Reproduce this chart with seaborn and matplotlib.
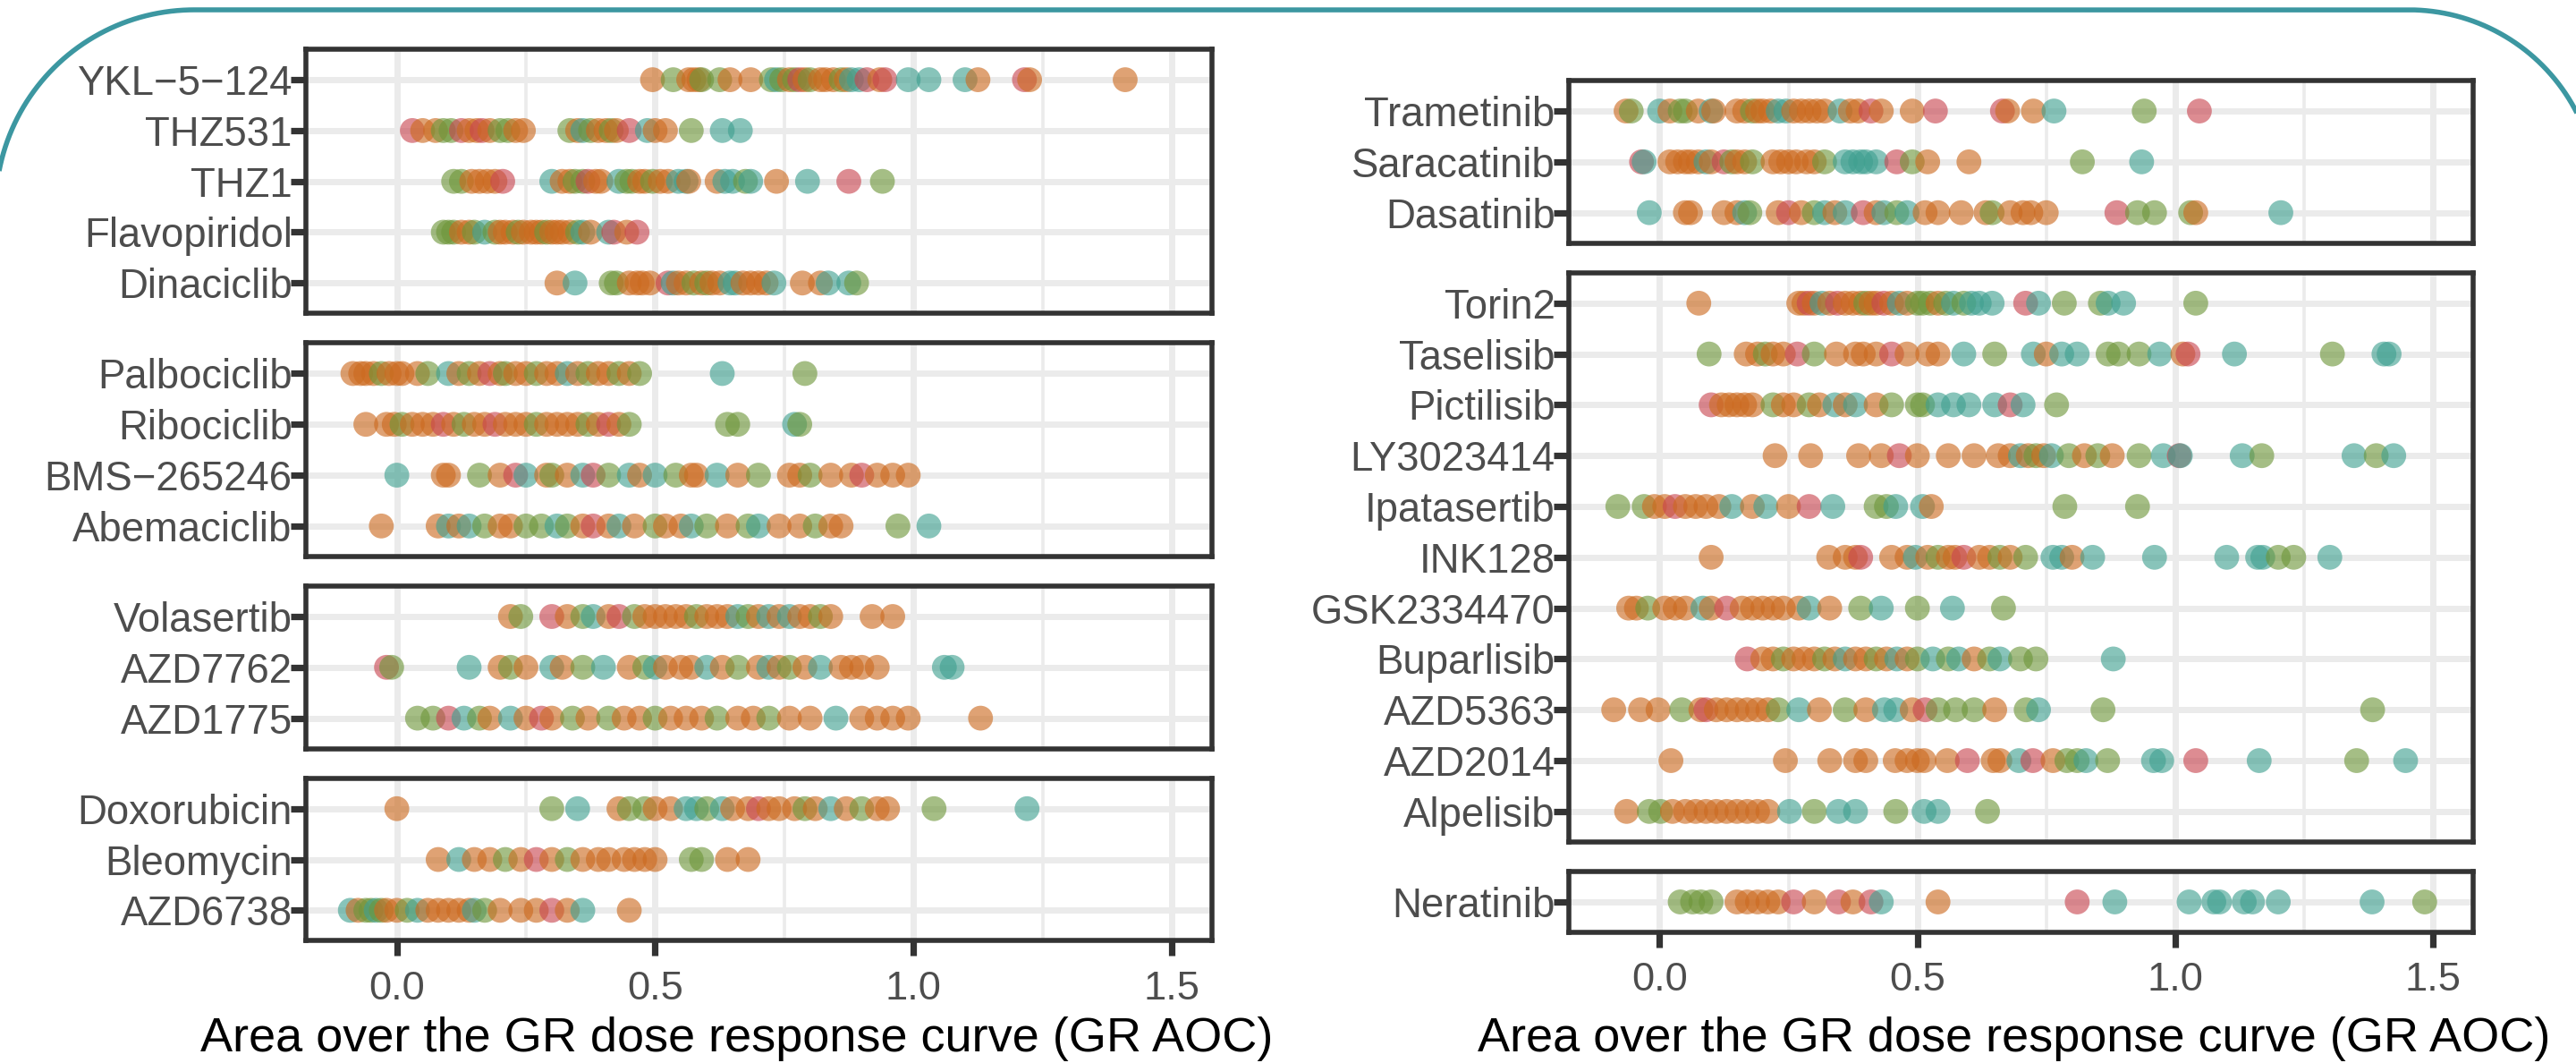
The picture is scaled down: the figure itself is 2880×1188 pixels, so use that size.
import numpy as np
import pandas as pd
import matplotlib
matplotlib.use("Agg")
import matplotlib.pyplot as plt
import seaborn as sns

# ---------------- data (GR AOC value, subtype code) ----------------
# subtype codes: o, g, t, p  (four cell-line groups)
YKL_5_124 = [(0.495,'o'),(0.535,'g'),(0.565,'o'),(0.575,'o'),(0.585,'o'),(0.59,'g'),(0.625,'g'),(0.645,'o'),(0.685,'o'),(0.725,'g'),(0.735,'t'),(0.745,'g'),(0.76,'o'),(0.77,'g'),(0.78,'p'),(0.79,'o'),(0.80,'g'),(0.82,'o'),(0.83,'o'),(0.845,'o'),(0.86,'g'),(0.87,'o'),(0.88,'t'),(0.895,'t'),(0.91,'p'),(0.935,'o'),(0.945,'p'),(0.99,'t'),(1.03,'t'),(1.10,'t'),(1.125,'o'),(1.215,'p'),(1.225,'o'),(1.41,'o')]
THZ531 = [(0.03,'p'),(0.05,'o'),(0.075,'o'),(0.09,'g'),(0.105,'g'),(0.125,'p'),(0.14,'o'),(0.155,'o'),(0.165,'p'),(0.18,'o'),(0.2,'g'),(0.215,'g'),(0.23,'o'),(0.245,'o'),(0.335,'g'),(0.35,'o'),(0.36,'t'),(0.375,'g'),(0.39,'o'),(0.405,'o'),(0.415,'g'),(0.425,'o'),(0.45,'p'),(0.485,'t'),(0.5,'o'),(0.52,'o'),(0.57,'g'),(0.63,'t'),(0.665,'t')]
THZ1 = [(0.11,'g'),(0.125,'g'),(0.145,'o'),(0.16,'o'),(0.175,'o'),(0.19,'o'),(0.205,'p'),(0.3,'t'),(0.32,'o'),(0.335,'o'),(0.345,'g'),(0.36,'g'),(0.37,'p'),(0.385,'o'),(0.395,'o'),(0.43,'t'),(0.445,'g'),(0.455,'g'),(0.47,'o'),(0.48,'o'),(0.495,'g'),(0.51,'o'),(0.525,'o'),(0.545,'t'),(0.56,'t'),(0.565,'o'),(0.62,'o'),(0.635,'t'),(0.65,'t'),(0.675,'g'),(0.685,'t'),(0.735,'o'),(0.795,'t'),(0.875,'p'),(0.94,'g')]
Flavopiridol = [(0.09,'g'),(0.1,'g'),(0.11,'g'),(0.125,'o'),(0.14,'o'),(0.15,'g'),(0.17,'t'),(0.19,'g'),(0.2,'o'),(0.21,'o'),(0.225,'o'),(0.235,'g'),(0.245,'o'),(0.26,'o'),(0.27,'o'),(0.28,'o'),(0.29,'g'),(0.3,'o'),(0.31,'o'),(0.32,'o'),(0.335,'o'),(0.35,'g'),(0.36,'t'),(0.375,'o'),(0.41,'t'),(0.42,'p'),(0.445,'o'),(0.465,'p')]
Dinaciclib = [(0.31,'o'),(0.345,'t'),(0.415,'g'),(0.425,'g'),(0.45,'o'),(0.465,'o'),(0.475,'o'),(0.49,'o'),(0.525,'p'),(0.535,'t'),(0.545,'o'),(0.56,'o'),(0.575,'g'),(0.59,'o'),(0.6,'g'),(0.61,'o'),(0.625,'o'),(0.645,'t'),(0.655,'t'),(0.67,'o'),(0.685,'o'),(0.7,'o'),(0.715,'o'),(0.73,'t'),(0.785,'o'),(0.82,'o'),(0.835,'t'),(0.875,'t'),(0.89,'g')]

Palbociclib = [(-0.085,'o'),(-0.07,'o'),(-0.06,'o'),(-0.045,'o'),(-0.03,'g'),(-0.015,'o'),(0.0,'o'),(0.01,'o'),(0.04,'o'),(0.06,'g'),(0.1,'t'),(0.12,'o'),(0.14,'g'),(0.16,'o'),(0.18,'p'),(0.2,'o'),(0.21,'g'),(0.23,'o'),(0.25,'o'),(0.27,'g'),(0.29,'o'),(0.31,'o'),(0.33,'t'),(0.35,'o'),(0.37,'g'),(0.39,'o'),(0.41,'o'),(0.43,'g'),(0.45,'o'),(0.47,'g'),(0.63,'t'),(0.79,'g')]
Ribociclib = [(-0.06,'o'),(-0.02,'o'),(-0.005,'o'),(0.01,'g'),(0.03,'o'),(0.05,'o'),(0.07,'o'),(0.09,'p'),(0.11,'o'),(0.13,'g'),(0.15,'o'),(0.17,'o'),(0.19,'p'),(0.21,'o'),(0.23,'o'),(0.25,'o'),(0.27,'g'),(0.29,'o'),(0.31,'o'),(0.33,'o'),(0.35,'o'),(0.37,'g'),(0.39,'o'),(0.41,'p'),(0.43,'o'),(0.45,'g'),(0.64,'g'),(0.66,'g'),(0.77,'t'),(0.78,'g')]
BMS_265246 = [(0.0,'t'),(0.09,'o'),(0.1,'o'),(0.16,'g'),(0.2,'o'),(0.23,'p'),(0.25,'t'),(0.29,'o'),(0.3,'g'),(0.33,'o'),(0.36,'t'),(0.38,'p'),(0.41,'g'),(0.45,'t'),(0.47,'o'),(0.5,'t'),(0.54,'g'),(0.57,'o'),(0.58,'o'),(0.62,'t'),(0.66,'o'),(0.7,'g'),(0.76,'o'),(0.78,'o'),(0.8,'g'),(0.84,'o'),(0.88,'o'),(0.9,'p'),(0.93,'o'),(0.96,'o'),(0.99,'o')]
Abemaciclib = [(-0.03,'o'),(0.08,'o'),(0.1,'t'),(0.12,'o'),(0.14,'t'),(0.17,'g'),(0.2,'o'),(0.22,'o'),(0.25,'g'),(0.28,'g'),(0.31,'t'),(0.33,'g'),(0.36,'o'),(0.38,'p'),(0.41,'o'),(0.43,'t'),(0.46,'o'),(0.5,'g'),(0.52,'o'),(0.55,'o'),(0.57,'t'),(0.6,'g'),(0.64,'o'),(0.68,'g'),(0.7,'t'),(0.74,'o'),(0.78,'o'),(0.81,'g'),(0.84,'o'),(0.86,'o'),(0.97,'g'),(1.03,'t')]

Volasertib = [(0.22,'o'),(0.24,'g'),(0.3,'p'),(0.33,'o'),(0.36,'g'),(0.38,'t'),(0.41,'o'),(0.43,'p'),(0.46,'g'),(0.48,'o'),(0.5,'o'),(0.52,'o'),(0.54,'o'),(0.56,'o'),(0.58,'g'),(0.6,'o'),(0.62,'o'),(0.64,'o'),(0.66,'t'),(0.68,'g'),(0.7,'o'),(0.72,'t'),(0.74,'o'),(0.76,'t'),(0.78,'o'),(0.8,'o'),(0.82,'g'),(0.84,'o'),(0.92,'o'),(0.96,'o')]
AZD7762 = [(-0.02,'p'),(-0.01,'g'),(0.14,'t'),(0.2,'o'),(0.22,'g'),(0.25,'o'),(0.3,'t'),(0.32,'o'),(0.36,'g'),(0.4,'t'),(0.45,'o'),(0.48,'g'),(0.5,'t'),(0.52,'o'),(0.55,'o'),(0.57,'o'),(0.6,'t'),(0.63,'o'),(0.66,'g'),(0.7,'o'),(0.72,'t'),(0.74,'o'),(0.76,'g'),(0.79,'o'),(0.82,'t'),(0.86,'o'),(0.88,'o'),(0.9,'o'),(0.93,'o'),(1.06,'t'),(1.075,'t')]
AZD1775 = [(0.04,'g'),(0.07,'g'),(0.1,'p'),(0.13,'t'),(0.16,'g'),(0.18,'o'),(0.22,'t'),(0.25,'o'),(0.28,'p'),(0.3,'o'),(0.34,'g'),(0.37,'o'),(0.41,'g'),(0.44,'o'),(0.47,'o'),(0.5,'g'),(0.53,'o'),(0.56,'o'),(0.59,'o'),(0.62,'g'),(0.66,'o'),(0.69,'o'),(0.72,'g'),(0.76,'o'),(0.8,'o'),(0.85,'t'),(0.9,'o'),(0.93,'o'),(0.96,'o'),(0.99,'o'),(1.13,'o')]

Doxorubicin = [(0.0,'o'),(0.3,'g'),(0.35,'t'),(0.43,'o'),(0.45,'g'),(0.48,'g'),(0.5,'o'),(0.53,'o'),(0.56,'t'),(0.58,'t'),(0.6,'g'),(0.63,'t'),(0.65,'o'),(0.68,'o'),(0.7,'p'),(0.72,'o'),(0.74,'o'),(0.77,'o'),(0.79,'g'),(0.81,'o'),(0.84,'t'),(0.87,'o'),(0.9,'g'),(0.93,'o'),(0.95,'o'),(1.04,'g'),(1.22,'t')]
Bleomycin = [(0.08,'o'),(0.12,'t'),(0.15,'o'),(0.18,'o'),(0.21,'g'),(0.24,'o'),(0.27,'p'),(0.3,'o'),(0.33,'g'),(0.36,'o'),(0.39,'o'),(0.41,'o'),(0.44,'o'),(0.46,'o'),(0.48,'o'),(0.5,'o'),(0.57,'g'),(0.59,'g'),(0.64,'o'),(0.68,'o')]
AZD6738 = [(-0.09,'t'),(-0.075,'o'),(-0.06,'g'),(-0.05,'g'),(-0.04,'t'),(-0.03,'g'),(-0.02,'o'),(0.0,'o'),(0.02,'g'),(0.04,'t'),(0.06,'o'),(0.08,'o'),(0.1,'o'),(0.12,'o'),(0.14,'o'),(0.15,'t'),(0.17,'g'),(0.2,'o'),(0.24,'o'),(0.27,'o'),(0.3,'p'),(0.33,'o'),(0.36,'t'),(0.45,'o')]

Trametinib = [(-0.065,'o'),(-0.055,'g'),(0.0,'t'),(0.02,'o'),(0.04,'g'),(0.05,'g'),(0.075,'o'),(0.1,'t'),(0.105,'o'),(0.15,'o'),(0.165,'o'),(0.18,'g'),(0.19,'o'),(0.2,'o'),(0.215,'o'),(0.23,'t'),(0.245,'t'),(0.26,'o'),(0.275,'o'),(0.29,'o'),(0.305,'o'),(0.32,'o'),(0.35,'t'),(0.37,'o'),(0.385,'o'),(0.41,'p'),(0.43,'o'),(0.49,'o'),(0.535,'p'),(0.665,'p'),(0.675,'o'),(0.725,'o'),(0.765,'t'),(0.94,'g'),(1.047,'p')]
Saracatinib = [(-0.035,'p'),(-0.03,'t'),(0.02,'o'),(0.035,'o'),(0.05,'o'),(0.06,'o'),(0.075,'o'),(0.09,'t'),(0.1,'o'),(0.125,'p'),(0.14,'g'),(0.15,'o'),(0.165,'o'),(0.18,'g'),(0.22,'o'),(0.235,'o'),(0.25,'o'),(0.265,'o'),(0.285,'o'),(0.3,'o'),(0.32,'g'),(0.36,'t'),(0.375,'t'),(0.39,'t'),(0.4,'t'),(0.42,'t'),(0.46,'p'),(0.49,'g'),(0.52,'o'),(0.6,'o'),(0.82,'g'),(0.935,'t')]
Dasatinib = [(-0.02,'t'),(0.05,'o'),(0.06,'o'),(0.125,'o'),(0.15,'o'),(0.165,'t'),(0.175,'g'),(0.23,'o'),(0.25,'p'),(0.275,'o'),(0.3,'g'),(0.32,'t'),(0.34,'o'),(0.36,'t'),(0.395,'p'),(0.42,'o'),(0.435,'t'),(0.46,'g'),(0.48,'t'),(0.515,'o'),(0.54,'o'),(0.585,'o'),(0.633,'o'),(0.645,'g'),(0.68,'o'),(0.705,'o'),(0.72,'o'),(0.75,'o'),(0.887,'p'),(0.927,'g'),(0.96,'g'),(1.03,'g'),(1.04,'o'),(1.205,'t')]

Torin2 = [(0.076,'o'),(0.27,'o'),(0.28,'o'),(0.29,'p'),(0.3,'o'),(0.315,'t'),(0.33,'o'),(0.345,'p'),(0.36,'o'),(0.375,'o'),(0.39,'o'),(0.4,'g'),(0.41,'o'),(0.42,'o'),(0.435,'p'),(0.45,'o'),(0.465,'t'),(0.48,'o'),(0.5,'g'),(0.51,'g'),(0.525,'g'),(0.54,'o'),(0.555,'g'),(0.57,'t'),(0.59,'g'),(0.605,'t'),(0.62,'t'),(0.645,'t'),(0.71,'p'),(0.735,'t'),(0.785,'g'),(0.855,'g'),(0.87,'t'),(0.9,'t'),(1.04,'g')]
Taselisib = [(0.096,'g'),(0.168,'o'),(0.19,'o'),(0.205,'g'),(0.22,'o'),(0.24,'o'),(0.267,'p'),(0.3,'g'),(0.343,'o'),(0.38,'o'),(0.395,'o'),(0.42,'o'),(0.45,'p'),(0.48,'o'),(0.52,'o'),(0.54,'o'),(0.59,'t'),(0.65,'g'),(0.725,'t'),(0.75,'o'),(0.78,'t'),(0.81,'t'),(0.87,'g'),(0.89,'g'),(0.93,'g'),(0.97,'t'),(1.015,'o'),(1.025,'p'),(1.115,'t'),(1.305,'g'),(1.405,'t'),(1.415,'t')]
Pictilisib = [(0.1,'p'),(0.12,'o'),(0.135,'o'),(0.15,'o'),(0.165,'o'),(0.18,'o'),(0.22,'g'),(0.24,'o'),(0.26,'o'),(0.29,'g'),(0.31,'o'),(0.34,'t'),(0.36,'o'),(0.38,'t'),(0.42,'o'),(0.45,'g'),(0.5,'g'),(0.51,'g'),(0.54,'t'),(0.57,'t'),(0.6,'t'),(0.65,'t'),(0.68,'p'),(0.705,'t'),(0.77,'g')]
LY3023414 = [(0.224,'o'),(0.293,'o'),(0.386,'o'),(0.43,'o'),(0.465,'p'),(0.5,'o'),(0.56,'o'),(0.61,'o'),(0.657,'o'),(0.68,'o'),(0.7,'t'),(0.715,'o'),(0.73,'g'),(0.745,'o'),(0.76,'t'),(0.794,'g'),(0.824,'o'),(0.85,'g'),(0.878,'o'),(0.93,'g'),(0.977,'t'),(1.008,'p'),(1.01,'t'),(1.13,'t'),(1.168,'g'),(1.347,'t'),(1.39,'g'),(1.424,'t')]
Ipatasertib = [(-0.081,'g'),(-0.03,'g'),(-0.01,'o'),(0.01,'o'),(0.03,'p'),(0.05,'o'),(0.07,'o'),(0.09,'o'),(0.115,'o'),(0.14,'t'),(0.18,'o'),(0.206,'t'),(0.25,'o'),(0.29,'p'),(0.336,'t'),(0.42,'g'),(0.44,'g'),(0.458,'t'),(0.51,'t'),(0.527,'o'),(0.786,'g'),(0.927,'g')]
INK128 = [(0.1,'o'),(0.328,'o'),(0.36,'o'),(0.38,'o'),(0.39,'p'),(0.45,'o'),(0.48,'o'),(0.496,'t'),(0.52,'o'),(0.54,'g'),(0.56,'o'),(0.573,'o'),(0.59,'p'),(0.62,'o'),(0.64,'o'),(0.66,'g'),(0.68,'o'),(0.71,'g'),(0.763,'t'),(0.78,'t'),(0.8,'o'),(0.84,'t'),(0.96,'t'),(1.1,'t'),(1.16,'t'),(1.17,'t'),(1.2,'g'),(1.23,'g'),(1.3,'t')]
GSK2334470 = [(-0.06,'o'),(-0.045,'o'),(-0.023,'g'),(0.01,'o'),(0.03,'o'),(0.05,'o'),(0.084,'t'),(0.1,'o'),(0.13,'p'),(0.16,'o'),(0.18,'o'),(0.2,'o'),(0.22,'o'),(0.24,'o'),(0.27,'o'),(0.29,'t'),(0.33,'o'),(0.39,'g'),(0.43,'t'),(0.5,'g'),(0.568,'t'),(0.667,'g')]
Buparlisib = [(0.17,'p'),(0.2,'o'),(0.22,'o'),(0.24,'g'),(0.26,'o'),(0.28,'o'),(0.3,'o'),(0.32,'g'),(0.34,'o'),(0.36,'t'),(0.38,'o'),(0.4,'o'),(0.42,'g'),(0.44,'o'),(0.46,'t'),(0.48,'o'),(0.5,'g'),(0.53,'t'),(0.56,'g'),(0.58,'t'),(0.61,'o'),(0.64,'g'),(0.66,'t'),(0.7,'g'),(0.73,'g'),(0.88,'t')]
AZD5363 = [(-0.089,'o'),(-0.037,'o'),(-0.003,'o'),(0.043,'g'),(0.08,'o'),(0.09,'p'),(0.11,'o'),(0.13,'o'),(0.15,'o'),(0.17,'o'),(0.19,'o'),(0.21,'o'),(0.23,'g'),(0.27,'t'),(0.31,'o'),(0.36,'g'),(0.4,'o'),(0.436,'t'),(0.458,'t'),(0.49,'o'),(0.515,'p'),(0.54,'g'),(0.574,'g'),(0.61,'g'),(0.65,'o'),(0.711,'g'),(0.735,'t'),(0.86,'g'),(1.383,'g')]
AZD2014 = [(0.022,'o'),(0.244,'o'),(0.33,'o'),(0.38,'o'),(0.4,'o'),(0.457,'o'),(0.48,'o'),(0.5,'o'),(0.513,'o'),(0.558,'o'),(0.597,'p'),(0.647,'o'),(0.66,'o'),(0.697,'t'),(0.724,'p'),(0.763,'o'),(0.79,'g'),(0.81,'g'),(0.827,'t'),(0.869,'g'),(0.958,'t'),(0.974,'t'),(1.04,'p'),(1.163,'t'),(1.352,'g'),(1.447,'t')]
Alpelisib = [(-0.064,'o'),(-0.02,'g'),(0.002,'g'),(0.025,'o'),(0.05,'o'),(0.07,'o'),(0.09,'o'),(0.11,'o'),(0.13,'o'),(0.15,'o'),(0.17,'o'),(0.19,'o'),(0.21,'o'),(0.252,'t'),(0.3,'g'),(0.347,'t'),(0.38,'t'),(0.458,'g'),(0.513,'t'),(0.54,'t'),(0.636,'g')]
Neratinib = [(0.04,'g'),(0.064,'g'),(0.08,'g'),(0.1,'g'),(0.15,'o'),(0.17,'o'),(0.19,'o'),(0.21,'o'),(0.23,'o'),(0.26,'p'),(0.3,'o'),(0.347,'p'),(0.375,'o'),(0.41,'p'),(0.43,'t'),(0.54,'o'),(0.81,'p'),(0.883,'t'),(1.027,'t'),(1.075,'t'),(1.086,'t'),(1.134,'t'),(1.15,'t'),(1.2,'t'),(1.382,'t'),(1.484,'g')]

LEFT_PANELS = [
    [("YKL\u22125\u2212124", YKL_5_124), ("THZ531", THZ531), ("THZ1", THZ1),
     ("Flavopiridol", Flavopiridol), ("Dinaciclib", Dinaciclib)],
    [("Palbociclib", Palbociclib), ("Ribociclib", Ribociclib),
     ("BMS\u2212265246", BMS_265246), ("Abemaciclib", Abemaciclib)],
    [("Volasertib", Volasertib), ("AZD7762", AZD7762), ("AZD1775", AZD1775)],
    [("Doxorubicin", Doxorubicin), ("Bleomycin", Bleomycin), ("AZD6738", AZD6738)],
]
RIGHT_PANELS = [
    [("Trametinib", Trametinib), ("Saracatinib", Saracatinib), ("Dasatinib", Dasatinib)],
    [("Torin2", Torin2), ("Taselisib", Taselisib), ("Pictilisib", Pictilisib),
     ("LY3023414", LY3023414), ("Ipatasertib", Ipatasertib), ("INK128", INK128),
     ("GSK2334470", GSK2334470), ("Buparlisib", Buparlisib), ("AZD5363", AZD5363),
     ("AZD2014", AZD2014), ("Alpelisib", Alpelisib)],
    [("Neratinib", Neratinib)],
]
HUE_ORDER = ['o', 'g', 't', 'p']
PALETTE = {'o': '#CC6A1F', 'g': '#6E963A', 't': '#3FA090', 'p': '#C84550'}
X_TICKS = [0.0, 0.5, 1.0, 1.5]
X_LABEL = "Area over the GR dose response curve (GR AOC)"

# ---------------- figure ----------------
W, H, DPI = 2880, 1188, 200
sns.set_theme(style="white")
plt.rcParams['font.family'] = ['Liberation Sans', 'DejaVu Sans']
fig = plt.figure(figsize=(W / DPI, H / DPI), dpi=DPI)
fig.patch.set_facecolor('white')

UNIT = 56.8   # px per category row
GAP = 33.0    # px between panels
XLIM = (-0.176, 1.578)
SPINE = '#333333'


def make_df(panel):
    rows = []
    for name, pts in panel:
        for v, g in pts:
            rows.append((name, v, g))
    return pd.DataFrame(rows, columns=['drug', 'aoc', 'subtype'])


def draw_column(panels, x0, x1, ytop):
    y = ytop
    axes = []
    for i, panel in enumerate(panels):
        n = len(panel)
        h = (n + 0.2) * UNIT
        ax = fig.add_axes([x0 / W, 1 - (y + h) / H, (x1 - x0) / W, h / H])
        df = make_df(panel)
        order = [nm for nm, _ in panel]
        sns.stripplot(data=df, x='aoc', y='drug', hue='subtype', order=order,
                      hue_order=HUE_ORDER, palette=PALETTE, jitter=False,
                      size=10, alpha=0.62, linewidth=0, legend=False, ax=ax,
                      zorder=3)
        ax.set_xlim(*XLIM)
        ax.set_ylim(n - 1 + 0.6, -0.6)
        ax.set_xticks(X_TICKS)
        ax.set_xticks([0.25, 0.75, 1.25], minor=True)
        ax.set_axisbelow(True)
        ax.grid(which='major', axis='both', color='#EBEBEB', lw=2.5)
        ax.grid(which='minor', axis='x', color='#EBEBEB', lw=1.3)
        for s in ax.spines.values():
            s.set_color(SPINE)
            s.set_linewidth(2.0)
            s.set_visible(True)
        ax.set_xlabel('')
        ax.set_ylabel('')
        ax.tick_params(axis='y', which='major', left=True, length=6, width=2.6,
                       color=SPINE, labelsize=16.4, labelcolor='#4D4D4D', pad=-0.5)
        last = (i == len(panels) - 1)
        if last:
            ax.tick_params(axis='x', which='major', bottom=True, length=6, width=2.6,
                           color=SPINE, labelsize=16.3, labelcolor='#4D4D4D', pad=6)
            ax.set_xticklabels([f"{t:.1f}" for t in X_TICKS])
        else:
            ax.tick_params(axis='x', which='major', bottom=False, labelbottom=False)
        ax.tick_params(axis='x', which='minor', bottom=False, length=0)
        axes.append(ax)
        y += h + GAP
    return axes, y - GAP


laxes, lbottom = draw_column(LEFT_PANELS, 342, 1355, 55)
raxes, rbottom = draw_column(RIGHT_PANELS, 1754, 2765, 90)

fig.text(824 / W, 1 - 1175 / H, X_LABEL, ha='center', va='baseline',
         fontsize=19.5, color='black')
fig.text(2252 / W, 1 - 1175 / H, X_LABEL, ha='center', va='baseline',
         fontsize=19.5, color='black')

# decorative rounded teal frame (its sides run just outside the image)
ov = fig.add_axes([0, 0, 1, 1], facecolor='none')
ov.set_xlim(0, W)
ov.set_ylim(H, 0)
ov.axis('off')
TOP = 11
LCX, LR = 217, 222          # left corner: centre x, radius
RCX, RR = 2693, 211         # right corner: centre x, radius
t = np.linspace(0, np.pi / 2, 200)
left_x = LCX - LR * np.cos(t)
left_y = TOP + LR - LR * np.sin(t)
right_x = RCX + RR * np.sin(t)
right_y = TOP + RR - RR * np.cos(t)
fx = np.concatenate([[LCX - LR], left_x, right_x, [RCX + RR]])
fy = np.concatenate([[H + 50], left_y, right_y, [H + 50]])
ov.plot(fx, fy, color='#3C97A1', lw=2.0, solid_capstyle='butt', clip_on=False)

fig.savefig('out.png', dpi=DPI, facecolor='white')
